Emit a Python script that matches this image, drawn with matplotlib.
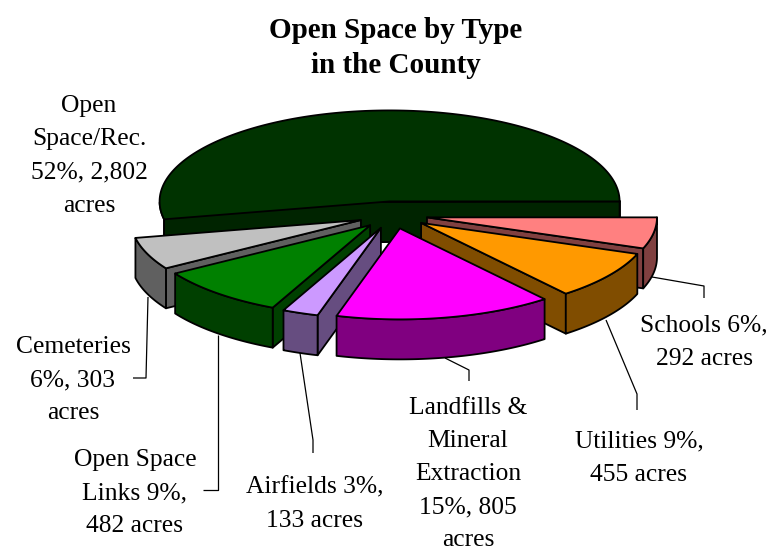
import numpy as np
import matplotlib
matplotlib.use("Agg")
import matplotlib.pyplot as plt
from matplotlib.patches import Polygon

plt.rcParams["font.family"] = ["Liberation Serif", "DejaVu Serif"]

# data, acres per type
categories = ["Open Space/Rec.", "Schools", "Utilities", "Landfills & Mineral Extraction",
              "Airfields", "Open Space Links", "Cemeteries"]
acres = [2802, 292, 455, 805, 133, 482, 303]
labels = ["Open\nSpace/Rec.\n52%, 2,802\nacres",
          "Schools 6%,\n292 acres",
          "Utilities 9%,\n455 acres",
          "Landfills &\nMineral\nExtraction\n15%, 805\nacres",
          "Airfields 3%,\n133 acres",
          "Open Space\nLinks 9%,\n482 acres",
          "Cemeteries\n6%, 303\nacres"]
title = "Open Space by Type\nin the County"

# colors for each slice, top then side
tops = ["#003300", "#FF8080", "#FF9900", "#FF00FF", "#CC99FF", "#008000", "#C0C0C0"]
sides = ["#002400", "#804040", "#804D00", "#800080", "#664D80", "#004000", "#606060"]

# pie layout in pixels
cx, cy = 393, 215
rx, ry = 230, 91
depth = 40
explode = 0.15

# label positions and leader lines, same order as the categories
label_xy = [(89, 156), (704, 342), (639, 458), (468, 474), (315, 504), (135, 493), (73, 380)]
leaders = [None,
           [(652, 277), (704, 286), (704, 298)],
           [(606, 320), (637, 394), (637, 410)],
           [(445, 358), (469, 370), (469, 381)],
           [(300, 353), (313, 440), (313, 453)],
           [(218, 335), (218, 490), (203, 490)],
           [(148, 297), (146, 378), (133, 378)]]

fig = plt.figure(figsize=(7.74, 5.5), dpi=100)
ax = fig.add_axes([0, 0, 1, 1])
ax.set_xlim(0, 774)
ax.set_ylim(550, 0)
ax.axis("off")

# angles run clockwise on screen, open space ends at 0 degrees
total = sum(acres)
spans = [a / total * 360 for a in acres]
starts = np.cumsum([-spans[0]] + spans[:-1])


def face(points, color):
    ax.add_patch(Polygon(points, closed=True, facecolor=color, edgecolor="black",
                         linewidth=1.3, joinstyle="round"))


def draw_slice(i):
    t1, t2 = starts[i], starts[i] + spans[i]
    mid = np.radians((t1 + t2) / 2)
    x0 = cx + explode * rx * np.cos(mid)
    y0 = cy + explode * ry * np.sin(mid)
    t = np.radians(np.linspace(t1, t2, 200))
    xs = x0 + rx * np.cos(t)
    ys = y0 + ry * np.sin(t)

    # inner faces, only the ones turned toward the viewer
    if np.cos(t[-1]) > 1e-9:
        face([(x0, y0), (xs[-1], ys[-1]), (xs[-1], ys[-1] + depth), (x0, y0 + depth)], sides[i])
    if np.cos(t[0]) < 0:
        shade = "#001C00" if i == 0 else sides[i]
        face([(x0, y0), (xs[0], ys[0]), (xs[0], ys[0] + depth), (x0, y0 + depth)], shade)

    # outer wall, front half only
    front = np.sin(t) >= 0
    if front.any():
        fx, fy = xs[front], ys[front]
        face(list(zip(fx, fy)) + list(zip(fx[::-1], fy[::-1] + depth)), sides[i])

    face([(x0, y0)] + list(zip(xs, ys)), tops[i])


# back to front, landfills goes over the airfields wall
for i in [0, 1, 6, 2, 5, 4, 3]:
    draw_slice(i)

for i in range(len(categories)):
    if leaders[i]:
        xs, ys = zip(*leaders[i])
        ax.plot(xs, ys, color="black", lw=0.9, solid_capstyle="butt")
    ax.text(label_xy[i][0], label_xy[i][1], labels[i], ha="center", va="center",
            fontsize=18.4, linespacing=1.66, color="black")

ax.text(396, 48, title, ha="center", va="center", fontsize=21, fontweight="bold", linespacing=1.35)

fig.savefig("out.png", dpi=100)
